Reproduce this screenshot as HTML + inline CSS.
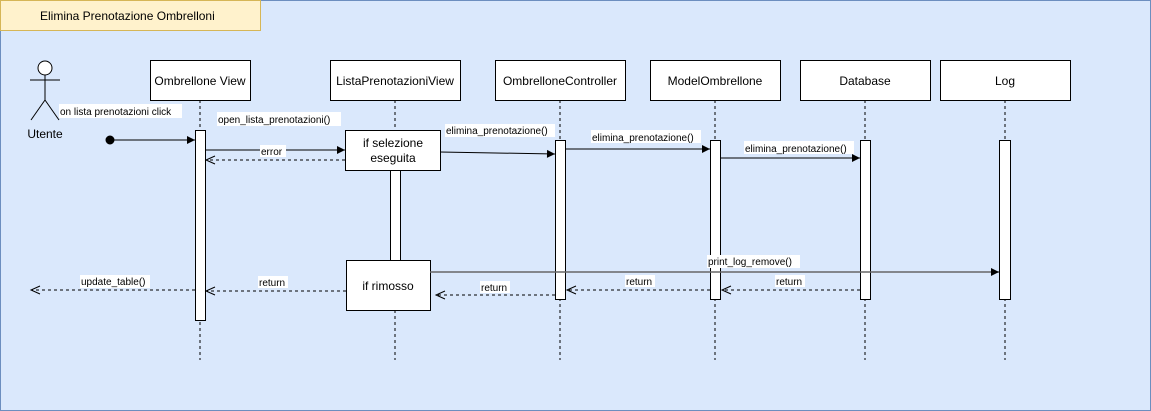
<!DOCTYPE html>
<html><head><meta charset="utf-8"><style>
html,body{margin:0;padding:0;background:#fff}
svg{display:block;font-family:"Liberation Sans",Arial,sans-serif}
</style></head><body>
<svg width="1151" height="411" viewBox="0 0 1151 411" xmlns="http://www.w3.org/2000/svg">
<defs>
<marker id="fa" markerWidth="10" markerHeight="10" refX="9" refY="5" orient="auto" markerUnits="userSpaceOnUse"><path d="M1,1 L9,5 L1,9 Z" fill="#000"/></marker>
<marker id="oa" markerWidth="12" markerHeight="10" refX="10" refY="5" orient="auto" markerUnits="userSpaceOnUse"><path d="M1,1 L10,5 L1,9" fill="none" stroke="#000" stroke-dasharray="none"/></marker>
</defs>
<rect x="0.5" y="0.5" width="1150" height="410" fill="#dae8fc" stroke="#6c8ebf"/>
<rect x="0.5" y="0.5" width="260" height="30" fill="#fff2cc" stroke="#d6b656"/>
<text x="40" y="20" font-size="12">Elimina Prenotazione Ombrelloni</text>

<circle cx="45" cy="68" r="7" fill="#fff" stroke="#000"/>
<line x1="45" y1="75" x2="45" y2="100" stroke="#000"/>
<line x1="30" y1="80" x2="60" y2="80" stroke="#000"/>
<line x1="45" y1="100" x2="31" y2="120" stroke="#000"/>
<line x1="45" y1="100" x2="59" y2="120" stroke="#000"/>
<text x="45" y="138" font-size="12" text-anchor="middle">Utente</text>

<g stroke="#000" stroke-dasharray="3,3">
<line x1="200" y1="100" x2="200" y2="360"/>
<line x1="395" y1="100" x2="395" y2="360"/>
<line x1="560" y1="100" x2="560" y2="360"/>
<line x1="715" y1="100" x2="715" y2="360"/>
<line x1="865" y1="100" x2="865" y2="360"/>
<line x1="1005" y1="100" x2="1005" y2="360"/>
</g>

<g fill="#fff" stroke="#000">
<rect x="150.5" y="60.5" width="100" height="40"/>
<rect x="330.5" y="60.5" width="130" height="40"/>
<rect x="495.5" y="60.5" width="130" height="40"/>
<rect x="650.5" y="60.5" width="130" height="40"/>
<rect x="800.5" y="60.5" width="130" height="40"/>
<rect x="940.5" y="60.5" width="130" height="40"/>
<rect x="195.5" y="130.5" width="10" height="190"/>
<rect x="390.5" y="170.5" width="10" height="90"/>
<rect x="345.5" y="130.5" width="95" height="40"/>
<rect x="346.5" y="260.5" width="84" height="50"/>
<rect x="555.5" y="140.5" width="10" height="159"/>
<rect x="710.5" y="140.5" width="10" height="159"/>
<rect x="860.5" y="140.5" width="10" height="159"/>
<rect x="999.5" y="140.5" width="11" height="159"/>
</g>
<g font-size="12" text-anchor="middle">
<text x="200" y="85">Ombrellone View</text>
<text x="395" y="85">ListaPrenotazioniView</text>
<text x="560" y="85">OmbrelloneController</text>
<text x="715" y="85">ModelOmbrellone</text>
<text x="865" y="85">Database</text>
<text x="1005" y="85">Log</text>
<text x="393" y="147">if selezione</text>
<text x="393" y="162">eseguita</text>
<text x="388" y="290">if rimosso</text>
</g>

<g stroke="#000" fill="none">
<circle cx="110" cy="140" r="4" fill="#000"/>
<line x1="110" y1="140" x2="195" y2="140" marker-end="url(#fa)"/>
<line x1="205" y1="150" x2="345" y2="150" marker-end="url(#fa)"/>
<line x1="345" y1="160" x2="206" y2="160" stroke-dasharray="3,3" marker-end="url(#oa)"/>
<line x1="440" y1="152" x2="555" y2="154" marker-end="url(#fa)"/>
<line x1="566" y1="149" x2="710" y2="149" marker-end="url(#fa)"/>
<line x1="721" y1="158" x2="860" y2="158" marker-end="url(#fa)"/>
<line x1="430" y1="272" x2="999" y2="272" stroke="#666" stroke-width="1.5" marker-end="url(#fa)"/>
<g stroke-dasharray="3,3">
<line x1="860" y1="290" x2="722" y2="290" marker-end="url(#oa)"/>
<line x1="710" y1="290" x2="567" y2="290" marker-end="url(#oa)"/>
<line x1="555" y1="295" x2="436" y2="295" marker-end="url(#oa)"/>
<line x1="346" y1="291" x2="206" y2="291" marker-end="url(#oa)"/>
<line x1="195" y1="290" x2="31" y2="290" marker-end="url(#oa)"/>
</g>
</g>

<g font-size="10">
<rect x="59" y="104" width="123" height="14" fill="#fff"/><text x="60" y="115">on lista prenotazioni click</text>
<rect x="217" y="112" width="124" height="14" fill="#fff"/><text x="218" y="123">open_lista_prenotazioni()</text>
<rect x="260" y="145" width="26" height="12" fill="#fff"/><text x="261" y="155">error</text>
<rect x="445" y="124" width="110" height="13" fill="#fff"/><text x="446" y="134">elimina_prenotazione()</text>
<rect x="591" y="130" width="110" height="13" fill="#fff"/><text x="592" y="141">elimina_prenotazione()</text>
<rect x="744" y="141" width="110" height="13" fill="#fff"/><text x="745" y="152">elimina_prenotazione()</text>
<rect x="707" y="255" width="93" height="13" fill="#fff"/><text x="708" y="265">print_log_remove()</text>
<rect x="775" y="275" width="30" height="12" fill="#fff"/><text x="776" y="285">return</text>
<rect x="625" y="275" width="30" height="12" fill="#fff"/><text x="626" y="285">return</text>
<rect x="480" y="281" width="30" height="12" fill="#fff"/><text x="481" y="291">return</text>
<rect x="258" y="276" width="30" height="12" fill="#fff"/><text x="259" y="286">return</text>
<rect x="80" y="275" width="70" height="13" fill="#fff"/><text x="81" y="285">update_table()</text>
</g>
</svg>
</body></html>
